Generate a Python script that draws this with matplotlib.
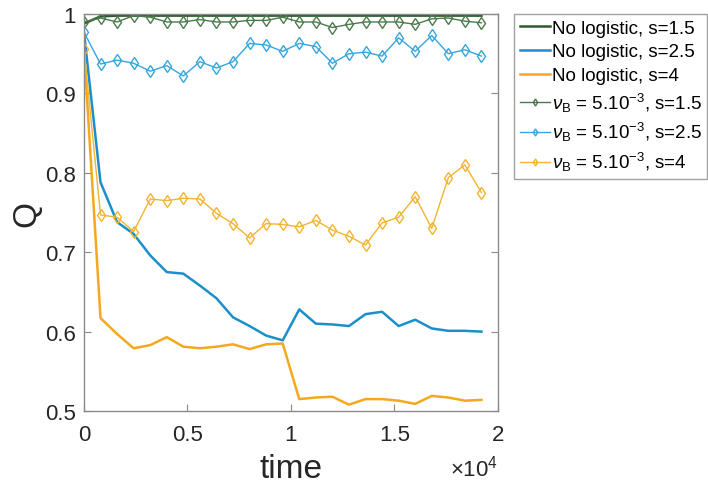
import numpy as np
import matplotlib
matplotlib.use('Agg')
import matplotlib.pyplot as plt
from matplotlib.ticker import FuncFormatter

plt.rcParams['font.family'] = ['Liberation Sans', 'DejaVu Sans']
plt.rcParams['mathtext.fontset'] = 'custom'
plt.rcParams['mathtext.rm'] = 'Liberation Sans'
plt.rcParams['mathtext.it'] = 'Liberation Sans:italic'

# time samples (every 800 steps)
time = [0, 800, 1600, 2400, 3200, 4000, 4800, 5600, 6400, 7200, 8000, 8800,
        9600, 10400, 11200, 12000, 12800, 13600, 14400, 15200, 16000, 16800,
        17600, 18400, 19200]

# no logistic
q_nolog_15 = [0.988, 0.997, 0.998, 0.998, 0.998, 0.998, 0.998, 0.998, 0.998,
              0.998, 0.998, 0.998, 0.998, 0.998, 0.998, 0.998, 0.998, 0.998,
              0.998, 0.998, 0.998, 0.998, 0.998, 0.998, 0.998]
q_nolog_25 = [0.977, 0.788, 0.738, 0.723, 0.696, 0.675, 0.673, 0.658, 0.642,
              0.618, 0.607, 0.595, 0.589, 0.628, 0.610, 0.609, 0.607, 0.622,
              0.625, 0.607, 0.615, 0.604, 0.601, 0.601, 0.600]
q_nolog_4 = [0.956, 0.617, 0.597, 0.579, 0.583, 0.593, 0.581, 0.579, 0.581,
             0.584, 0.578, 0.584, 0.585, 0.515, 0.517, 0.518, 0.508, 0.515,
             0.515, 0.513, 0.509, 0.519, 0.517, 0.513, 0.514]

# nu_B = 5e-3
q_nu_15 = [0.990, 0.995, 0.990, 0.998, 0.996, 0.990, 0.990, 0.993, 0.990,
           0.990, 0.992, 0.992, 0.996, 0.990, 0.990, 0.983, 0.987, 0.990,
           0.990, 0.990, 0.987, 0.994, 0.995, 0.991, 0.989]
q_nu_25 = [0.977, 0.937, 0.942, 0.938, 0.928, 0.935, 0.922, 0.940, 0.932,
           0.940, 0.963, 0.961, 0.953, 0.963, 0.959, 0.938, 0.950, 0.952,
           0.947, 0.970, 0.953, 0.973, 0.950, 0.955, 0.947]
q_nu_4 = [0.956, 0.747, 0.744, 0.726, 0.767, 0.765, 0.768, 0.767, 0.749,
          0.736, 0.718, 0.736, 0.735, 0.732, 0.740, 0.728, 0.720, 0.709,
          0.737, 0.744, 0.770, 0.730, 0.794, 0.810, 0.775]

labels = ['No logistic, s=1.5', 'No logistic, s=2.5', 'No logistic, s=4',
          r'$\nu_{\mathrm{B}}$ = 5.10$^{-3}$, s=1.5',
          r'$\nu_{\mathrm{B}}$ = 5.10$^{-3}$, s=2.5',
          r'$\nu_{\mathrm{B}}$ = 5.10$^{-3}$, s=4']

fig = plt.figure(figsize=(7.08, 4.85), dpi=100)
ax = fig.add_axes([0.1186, 0.1505, 0.5848, 0.8185])

ax.plot(time, q_nolog_15, color='#2d5a2d', lw=1.8, label=labels[0])
ax.plot(time, q_nolog_25, color='#1b8fc9', lw=1.8, label=labels[1])
ax.plot(time, q_nolog_4, color='#f5a81e', lw=1.8, label=labels[2])
ax.plot(time, q_nu_15, color='#4b7a4b', lw=1.0, marker='d', ms=6,
        mfc='none', mew=1.0, label=labels[3])
ax.plot(time, q_nu_25, color='#35a6dc', lw=1.0, marker='d', ms=6,
        mfc='none', mew=1.0, label=labels[4])
ax.plot(time, q_nu_4, color='#f3b431', lw=1.0, marker='d', ms=6,
        mfc='none', mew=1.0, label=labels[5])

ax.set_xlim(0, 20000)
ax.set_ylim(0.5, 1.0)
ax.set_xticks([0, 5000, 10000, 15000, 20000])
ax.set_yticks([0.5, 0.6, 0.7, 0.8, 0.9, 1.0])
ax.xaxis.set_major_formatter(FuncFormatter(lambda v, p: f'{v / 1e4:g}'))
ax.yaxis.set_major_formatter(FuncFormatter(lambda v, p: f'{v:g}'))
ax.text(1.0, -0.11, r'$\times$10$^{4}$', transform=ax.transAxes,
        ha='right', va='top', fontsize=16, color='#262626')

for sp in ax.spines.values():
    sp.set_color('#8a8a8a')
    sp.set_linewidth(1.0)
ax.tick_params(direction='in', top=True, right=True, length=5,
               color='#8a8a8a', labelsize=16, labelcolor='#262626')
ax.tick_params(axis='x', pad=9)
ax.tick_params(axis='y', pad=6)

ax.set_xlabel('time', fontsize=24, color='#262626', labelpad=6)
ax.set_ylabel('Q', fontsize=24, color='#262626', labelpad=2)

leg = ax.legend(loc='upper left', bbox_to_anchor=(0.726, 0.969),
                bbox_transform=fig.transFigure, fontsize=13.5, frameon=True,
                fancybox=False, edgecolor='#8a8a8a', borderaxespad=0,
                handlelength=1.6, handletextpad=0.1, labelspacing=0.35,
                borderpad=0.3, markerscale=0.6)
leg.get_frame().set_linewidth(1.0)

fig.savefig('out.png', dpi=100)
